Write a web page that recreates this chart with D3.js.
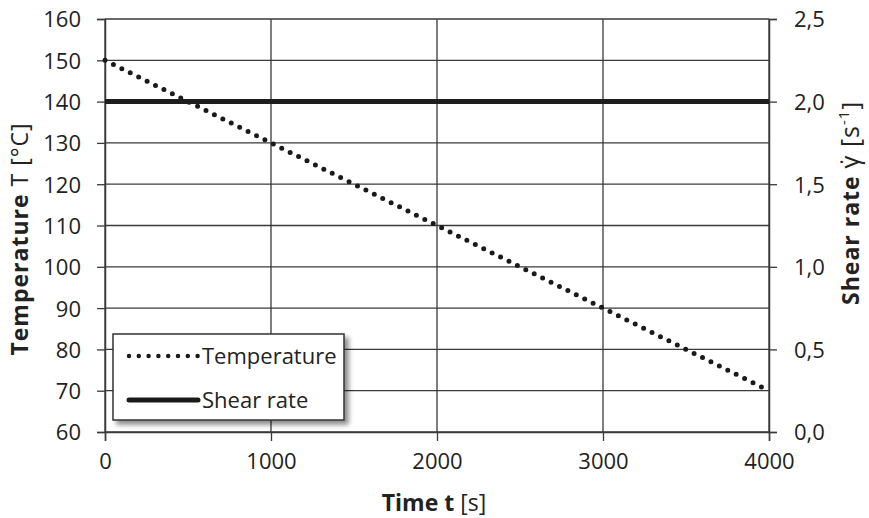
<!DOCTYPE html>
<html>
<head>
<meta charset="utf-8">
<script src="https://cdn.jsdelivr.net/npm/d3@7"></script>
<style>
  body { margin: 0; background: #fff; }
  text { font-family: "Open Sans", Lato, sans-serif; fill: #222; }
</style>
</head>
<body>
<div id="chart"></div>
<script>
// data
const timeValues = [0, 500, 1000, 1500, 2000, 2500, 3000, 3500, 4000];
const temperatureValues = [150, 140, 130, 120, 110, 100, 90, 80, 70];
const shearTime = [0, 4000];
const shearValues = [2.0, 2.0];
const xTicks = [0, 1000, 2000, 3000, 4000];
const yLeftTicks = [60, 70, 80, 90, 100, 110, 120, 130, 140, 150, 160];
const yRightTicks = [0, 0.5, 1.0, 1.5, 2.0, 2.5];
const legendNames = ["Temperature", "Shear rate"];

const width = 869, height = 518;
const margin = {left: 105, right: 100, top: 19, bottom: 86};

const svg = d3.select("#chart").append("svg")
  .attr("width", width)
  .attr("height", height);

const x = d3.scaleLinear().domain([0, 4000]).range([margin.left, width - margin.right]);
const yL = d3.scaleLinear().domain([60, 160]).range([height - margin.bottom, margin.top]);
const yR = d3.scaleLinear().domain([0, 2.5]).range([height - margin.bottom, margin.top]);

const commaFmt = d3.formatLocale({decimal: ",", thousands: ".", grouping: [3], currency: ["", ""]}).format(".1f");

const lineColor = "#3a3a3a";

//grid lines
svg.append("g").selectAll("line").data(yLeftTicks).join("line")
  .attr("x1", x(0)).attr("x2", x(4000))
  .attr("y1", d => yL(d)).attr("y2", d => yL(d))
  .attr("stroke", lineColor).attr("stroke-width", 1.3);
svg.append("g").selectAll("line").data(xTicks).join("line")
  .attr("x1", d => x(d)).attr("x2", d => x(d))
  .attr("y1", yL(60)).attr("y2", yL(160))
  .attr("stroke", lineColor).attr("stroke-width", 1.3);

//axes
const axisL = svg.append("g").attr("transform", `translate(${margin.left},0)`)
  .call(d3.axisLeft(yL).tickValues(yLeftTicks).tickSize(8).tickPadding(16));
const axisR = svg.append("g").attr("transform", `translate(${x(4000)},0)`)
  .call(d3.axisRight(yR).tickValues(yRightTicks).tickSize(8).tickPadding(17).tickFormat(commaFmt));
const axisB = svg.append("g").attr("transform", `translate(0,${yL(60)})`)
  .call(d3.axisBottom(x).tickValues(xTicks).tickSize(9).tickPadding(12).tickFormat(d3.format("d")));

[axisL, axisR, axisB].forEach(a => {
  a.select(".domain").attr("stroke", lineColor).attr("stroke-width", 1.5);
  a.selectAll(".tick line").attr("stroke", lineColor).attr("stroke-width", 1.3);
  a.selectAll(".tick text").style("font-size", "22px").attr("fill", "#333");
});
axisL.selectAll(".tick text").attr("dy", "0.36em");
axisR.selectAll(".tick text").attr("dy", "0.36em");

//series
const tempLine = d3.line().x((d, i) => x(timeValues[i])).y(d => yL(d));
svg.append("path")
  .datum(temperatureValues)
  .attr("d", tempLine)
  .attr("fill", "none")
  .attr("stroke", "#1a1a1a")
  .attr("stroke-width", 5)
  .attr("stroke-linecap", "round")
  .attr("stroke-dasharray", "0,9.4");

const shearLine = d3.line().x((d, i) => x(shearTime[i])).y(d => yR(d));
svg.append("path")
  .datum(shearValues)
  .attr("d", shearLine)
  .attr("fill", "none")
  .attr("stroke", "#1e1e1e")
  .attr("stroke-width", 5);

//legend with shadow
const defs = svg.append("defs");
const f = defs.append("filter").attr("id", "shadow")
  .attr("x", "-10%").attr("y", "-10%").attr("width", "130%").attr("height", "140%");
f.append("feDropShadow")
  .attr("dx", 4).attr("dy", 4).attr("stdDeviation", 2.5)
  .attr("flood-color", "#000").attr("flood-opacity", 0.45);

const lg = svg.append("g").attr("transform", "translate(113,334)");
lg.append("rect")
  .attr("width", 231).attr("height", 86)
  .attr("fill", "#fff")
  .attr("stroke", "#333").attr("stroke-width", 1.5)
  .attr("filter", "url(#shadow)");

legendNames.forEach((name, i) => {
  const yy = 22 + i * 44;
  const sample = lg.append("line")
    .attr("x1", 16).attr("x2", 85)
    .attr("y1", yy).attr("y2", yy)
    .attr("stroke", "#1a1a1a");
  if (i === 0) {
    sample.attr("stroke-width", 4.5).attr("stroke-linecap", "round").attr("stroke-dasharray", "0,9.8");
  } else {
    sample.attr("stroke-width", 5).attr("stroke-linecap", "round");
  }
  lg.append("text")
    .attr("x", 89).attr("y", yy + 8)
    .style("font-size", "22px")
    .text(name);
});

//axis titles
const xt = svg.append("text")
  .attr("x", 434).attr("y", 511)
  .attr("text-anchor", "middle")
  .style("font-size", "23px");
xt.append("tspan").attr("font-weight", "bold").text("Time t ");
xt.append("tspan").text("[s]");

const ylt = svg.append("text")
  .attr("transform", "translate(28,239) rotate(-90)")
  .attr("text-anchor", "middle")
  .style("font-size", "23px")
  .style("letter-spacing", "1px");
ylt.append("tspan").attr("font-weight", "bold").text("Temperature ");
ylt.append("tspan").text("T [°C]");

const yrt = svg.append("text")
  .attr("transform", "translate(859,203) rotate(-90)")
  .attr("text-anchor", "middle")
  .style("font-size", "23px")
  .style("letter-spacing", "1px");
yrt.append("tspan").attr("font-weight", "bold").text("Shear rate ");
yrt.append("tspan").style("font-size", "25px").text("\u03B3\u0307 [s");
yrt.append("tspan").attr("baseline-shift", "super").style("font-size", "15px").text("-1");
yrt.append("tspan").text("]");
</script>
</body>
</html>
